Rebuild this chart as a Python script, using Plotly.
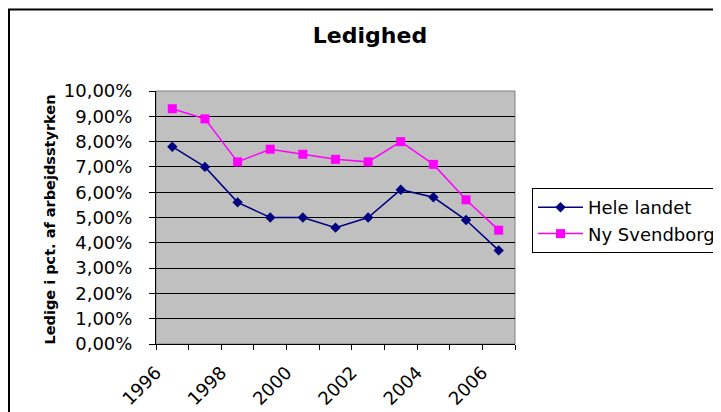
import plotly.graph_objects as go

years = [1996, 1997, 1998, 1999, 2000, 2001, 2002, 2003, 2004, 2005, 2006]
hele_landet = [0.078, 0.070, 0.056, 0.050, 0.050, 0.046, 0.050, 0.061, 0.058, 0.049, 0.037]
ny_svendborg = [0.093, 0.089, 0.072, 0.077, 0.075, 0.073, 0.072, 0.080, 0.071, 0.057, 0.045]

# ticks sit between the categories, labels only on every second year
tickvals = [y - 0.5 for y in years] + [years[-1] + 0.5]
ticktext = [str(y) if (y - years[0]) % 2 == 0 else "" for y in years] + [""]

fnt = "DejaVu Sans"

# the page body adds an 8px offset, so the layout below is shifted up/left by 8px
L, R, T, B = 148, 507, 83, 336
PW, PH = R - L, B - T

fig = go.Figure()
fig.add_trace(go.Scatter(
    x=years, y=hele_landet, name="Hele landet", mode="lines+markers",
    line=dict(color="#000080", width=1.5),
    marker=dict(symbol="diamond", size=8, color="#000080"),
))
fig.add_trace(go.Scatter(
    x=years, y=ny_svendborg, name="Ny Svendborg", mode="lines+markers",
    line=dict(color="#FF00FF", width=1.5),
    marker=dict(symbol="square", size=9, color="#FF00FF"),
))

fig.update_layout(
    width=721, height=412,
    margin=dict(l=L, r=721 - R, t=T, b=412 - B, autoexpand=False),
    paper_bgcolor="white",
    plot_bgcolor="#C0C0C0",
    separators=",.",
    font=dict(family=fnt, color="black", size=18),
    title=dict(
        text="<b>Ledighed</b>",
        font=dict(family=fnt, size=22, color="black"),
        x=362 / 721, xanchor="center",
        y=1 - 27 / 412, yanchor="middle",
    ),
    legend=dict(
        x=(524 - L) / PW, xanchor="left",
        y=(B - 180) / PH, yanchor="top",
        bgcolor="white", bordercolor="black", borderwidth=1,
        itemwidth=45,
        font=dict(family=fnt, size=18, color="black"),
    ),
    showlegend=True,
)

fig.update_xaxes(
    range=[years[0] - 0.5, years[-1] + 0.5],
    tickmode="array", tickvals=tickvals, ticktext=ticktext,
    tickangle=-45, ticks="outside", ticklen=5, tickcolor="black",
    ticklabelstandoff=5,
    showgrid=False, zeroline=False,
    showline=True, linecolor="black", linewidth=1,
    tickfont=dict(family=fnt, size=18, color="black"),
)

fig.update_yaxes(
    range=[0, 0.10001],
    tickmode="linear", tick0=0, dtick=0.01, tickformat=".2%",
    ticks="outside", ticklen=6, tickcolor="black",
    ticklabelstandoff=13,
    showgrid=True, gridcolor="black", gridwidth=1,
    zeroline=False,
    showline=True, linecolor="black", linewidth=1,
    tickfont=dict(family=fnt, size=18, color="black"),
)

# y-axis title as rotated text left of the tick labels
fig.add_annotation(
    text="<b>Ledige i pct. af arbejdsstyrken</b>",
    xref="paper", yref="paper",
    x=(31 - L) / PW, y=(B - 211.5) / PH,
    textangle=-90, showarrow=False,
    font=dict(family=fnt, size=14.5, color="black"),
)

# grey frame round the plot area and black frame round the whole chart
fig.add_shape(type="rect", xref="paper", yref="paper", x0=0, x1=1, y0=0, y1=1,
              line=dict(color="#808080", width=1), layer="below")
fig.add_shape(type="rect", xref="paper", yref="paper",
              x0=(1 - L) / PW, x1=(740 - L) / PW,
              y0=(B - 430) / PH, y1=(B - 1.5) / PH,
              line=dict(color="black", width=2))

fig.write_html("out.html")
